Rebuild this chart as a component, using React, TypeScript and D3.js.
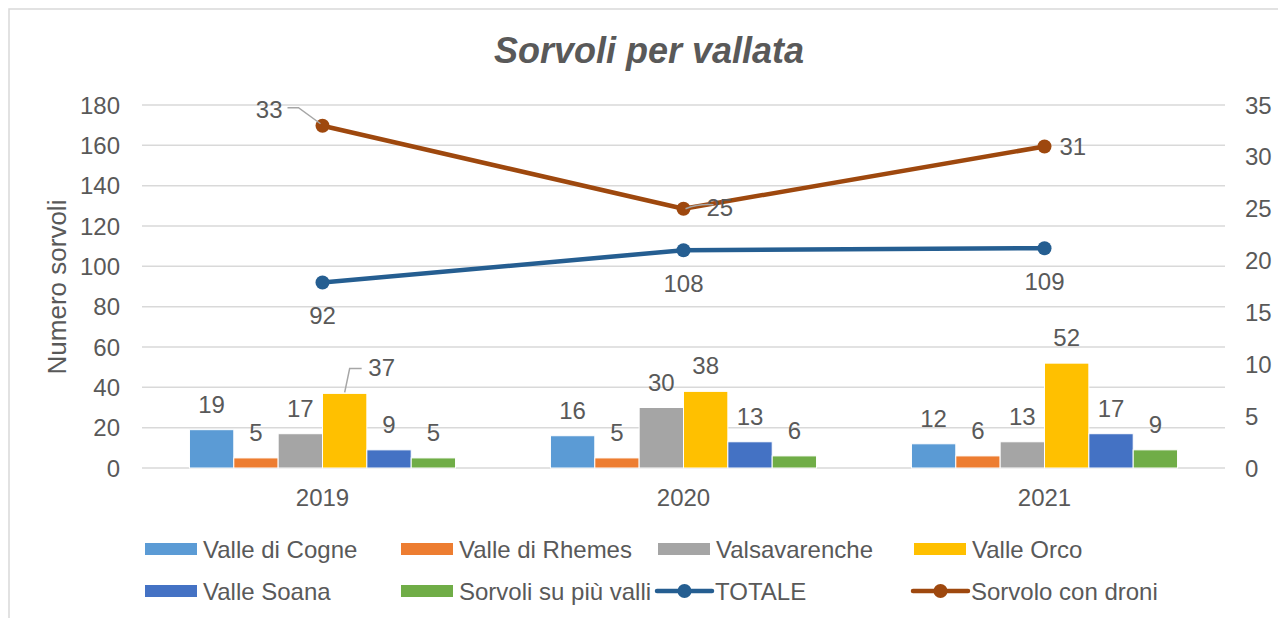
import React, { useEffect, useRef } from 'react';
import * as d3 from 'd3';

const years = ['2019', '2020', '2021'];
const barSeries = ['Valle di Cogne', 'Valle di Rhemes', 'Valsavarenche', 'Valle Orco', 'Valle Soana', 'Sorvoli su più valli'];
const barColors = ['#5B9BD5', '#ED7D31', '#A5A5A5', '#FFC000', '#4472C4', '#70AD47'];
const valleDiCogne = [19, 16, 12];
const valleDiRhemes = [5, 5, 6];
const valsavarenche = [17, 30, 13];
const valleOrco = [37, 38, 52];
const valleSoana = [9, 13, 17];
const piuValli = [5, 6, 9];
const totale = [92, 108, 109];
const droni = [33, 25, 31];
const leftTicks = [0, 20, 40, 60, 80, 100, 120, 140, 160, 180];
const rightTicks = [0, 5, 10, 15, 20, 25, 30, 35];

const TEXT = '#595959';
const GRID = '#D9D9D9';
const FONT = 'Liberation Sans, Arial, sans-serif';

export default function App() {
  const svgRef = useRef<SVGSVGElement>(null);

  useEffect(() => {
    document.body.style.margin = '0';
    if (!svgRef.current) return;
    const svg = d3.select(svgRef.current);
    svg.selectAll('*').remove();

    const margin = { left: 142, right: 1225, top: 105, bottom: 468 };
    const barData = [valleDiCogne, valleDiRhemes, valsavarenche, valleOrco, valleSoana, piuValli];

    const x0 = d3.scaleBand<string>().domain(years).range([margin.left, margin.right]).padding(0);
    const x1 = d3.scaleBand<string>().domain(barSeries).range([0, x0.bandwidth()]).paddingInner(0).paddingOuter(1.07);
    const yL = d3.scaleLinear().domain([0, 180]).range([margin.bottom, margin.top]);
    const yR = d3.scaleLinear().domain([0, 35]).range([margin.bottom, margin.top]);

    // chart border
    svg.append('rect')
      .attr('x', 9).attr('y', 9).attr('width', 1300).attr('height', 640)
      .attr('fill', 'white').attr('stroke', GRID).attr('stroke-width', 1.5);

    // title
    svg.append('text')
      .attr('x', 649).attr('y', 63)
      .attr('text-anchor', 'middle')
      .attr('font-family', FONT).attr('font-size', 36)
      .attr('font-weight', 'bold').attr('font-style', 'italic')
      .attr('fill', TEXT)
      .text('Sorvoli per vallata');

    // gridlines + left ticks
    leftTicks.forEach(t => {
      svg.append('line')
        .attr('x1', margin.left).attr('x2', margin.right)
        .attr('y1', yL(t)).attr('y2', yL(t))
        .attr('stroke', GRID).attr('stroke-width', 1.5);
      svg.append('text')
        .attr('x', 120).attr('y', yL(t) + 8.5)
        .attr('text-anchor', 'end')
        .attr('font-family', FONT).attr('font-size', 24).attr('fill', TEXT)
        .text(t);
    });
    rightTicks.forEach(t => {
      svg.append('text')
        .attr('x', 1245).attr('y', yR(t) + 8.5)
        .attr('font-family', FONT).attr('font-size', 24).attr('fill', TEXT)
        .text(t);
    });

    svg.append('text')
      .attr('transform', `translate(66,287) rotate(-90)`)
      .attr('text-anchor', 'middle')
      .attr('font-family', FONT).attr('font-size', 26).attr('fill', TEXT)
      .text('Numero sorvoli');

    // category labels
    years.forEach(y => {
      svg.append('text')
        .attr('x', (x0(y) ?? 0) + x0.bandwidth() / 2).attr('y', 506)
        .attr('text-anchor', 'middle')
        .attr('font-family', FONT).attr('font-size', 24).attr('fill', TEXT)
        .text(y);
    });

    // bars
    barData.forEach((vals, si) => {
      const name = barSeries[si];
      vals.forEach((v, yi) => {
        const bx = (x0(years[yi]) ?? 0) + (x1(name) ?? 0);
        svg.append('rect')
          .attr('x', bx).attr('y', yL(v))
          .attr('width', x1.bandwidth()).attr('height', yL(0) - yL(v))
          .attr('fill', barColors[si])
          .attr('stroke', 'white').attr('stroke-width', 1);
        const cx = bx + x1.bandwidth() / 2;
        if (si === 3 && yi === 0) {
          // leader-lined label
          svg.append('polyline')
            .attr('points', `${cx},${yL(v) - 1} ${cx + 5},${yL(v) - 25} ${cx + 17},${yL(v) - 25}`)
            .attr('fill', 'none').attr('stroke', '#A6A6A6').attr('stroke-width', 1.5);
          svg.append('text')
            .attr('x', cx + 37).attr('y', yL(v) - 17)
            .attr('text-anchor', 'middle')
            .attr('font-family', FONT).attr('font-size', 24).attr('fill', TEXT)
            .text(v);
        } else {
          svg.append('text')
            .attr('x', cx).attr('y', yL(v) - 17)
            .attr('text-anchor', 'middle')
            .attr('font-family', FONT).attr('font-size', 24).attr('fill', TEXT)
            .text(v);
        }
      });
    });

    const cxOf = (i: number) => (x0(years[i]) ?? 0) + x0.bandwidth() / 2;

    // TOTALE line
    const lineL = d3.line<number>().x((_, i) => cxOf(i)).y(d => yL(d));
    svg.append('path').datum(totale)
      .attr('d', lineL).attr('fill', 'none')
      .attr('stroke', '#255E91').attr('stroke-width', 4.5).attr('stroke-linejoin', 'round');
    totale.forEach((v, i) => {
      svg.append('circle').attr('cx', cxOf(i)).attr('cy', yL(v)).attr('r', 7).attr('fill', '#255E91');
      svg.append('text')
        .attr('x', cxOf(i)).attr('y', yL(v) + 42)
        .attr('text-anchor', 'middle')
        .attr('font-family', FONT).attr('font-size', 24).attr('fill', TEXT)
        .text(v);
    });

    // droni line
    const lineR = d3.line<number>().x((_, i) => cxOf(i)).y(d => yR(d));
    svg.append('path').datum(droni)
      .attr('d', lineR).attr('fill', 'none')
      .attr('stroke', '#9E480E').attr('stroke-width', 4.5).attr('stroke-linejoin', 'round');
    droni.forEach((v, i) => {
      const px = cxOf(i);
      const py = yR(v);
      svg.append('circle').attr('cx', px).attr('cy', py).attr('r', 7).attr('fill', '#9E480E');
      if (i === 0) {
        svg.append('polyline')
          .attr('points', `${px - 2},${py - 2} ${px - 24},${py - 18} ${px - 35},${py - 18}`)
          .attr('fill', 'none').attr('stroke', '#A6A6A6').attr('stroke-width', 1.5);
        svg.append('text')
          .attr('x', px - 40).attr('y', py - 8)
          .attr('text-anchor', 'end')
          .attr('font-family', FONT).attr('font-size', 24).attr('fill', TEXT)
          .text(v);
      } else if (i === 1) {
        svg.append('path')
          .attr('d', `M${px + 2},${py} Q${px + 15},${py - 5} ${px + 30},${py - 4}`)
          .attr('fill', 'none').attr('stroke', '#A6A6A6').attr('stroke-width', 1.5);
        svg.append('text')
          .attr('x', px + 23).attr('y', py + 7)
          .attr('font-family', FONT).attr('font-size', 24).attr('fill', TEXT)
          .text(v);
      } else {
        svg.append('text')
          .attr('x', px + 15).attr('y', py + 9)
          .attr('font-family', FONT).attr('font-size', 24).attr('fill', TEXT)
          .text(v);
      }
    });

    // legend
    const legendItems = [
      { name: barSeries[0], color: barColors[0], type: 'bar', x: 145, y: 549 },
      { name: barSeries[1], color: barColors[1], type: 'bar', x: 401, y: 549 },
      { name: barSeries[2], color: barColors[2], type: 'bar', x: 658, y: 549 },
      { name: barSeries[3], color: barColors[3], type: 'bar', x: 914, y: 549 },
      { name: barSeries[4], color: barColors[4], type: 'bar', x: 145, y: 591 },
      { name: barSeries[5], color: barColors[5], type: 'bar', x: 401, y: 591 },
      { name: 'TOTALE', color: '#255E91', type: 'line', x: 657, y: 591 },
      { name: 'Sorvolo con droni', color: '#9E480E', type: 'line', x: 913, y: 591 },
    ];
    legendItems.forEach(it => {
      if (it.type === 'bar') {
        svg.append('rect')
          .attr('x', it.x).attr('y', it.y - 6)
          .attr('width', 52).attr('height', 12)
          .attr('fill', it.color);
      } else {
        svg.append('line')
          .attr('x1', it.x).attr('x2', it.x + 55)
          .attr('y1', it.y).attr('y2', it.y)
          .attr('stroke', it.color).attr('stroke-width', 4.5).attr('stroke-linecap', 'round');
        svg.append('circle')
          .attr('cx', it.x + 27.5).attr('cy', it.y).attr('r', 7).attr('fill', it.color);
      }
      svg.append('text')
        .attr('x', it.x + 58).attr('y', it.y + 8.5)
        .attr('font-family', FONT).attr('font-size', 24).attr('fill', TEXT)
        .text(it.name);
    });
  }, []);

  return (
    <svg ref={svgRef} width={1278} height={618} style={{ display: 'block' }}></svg>
  );
}
